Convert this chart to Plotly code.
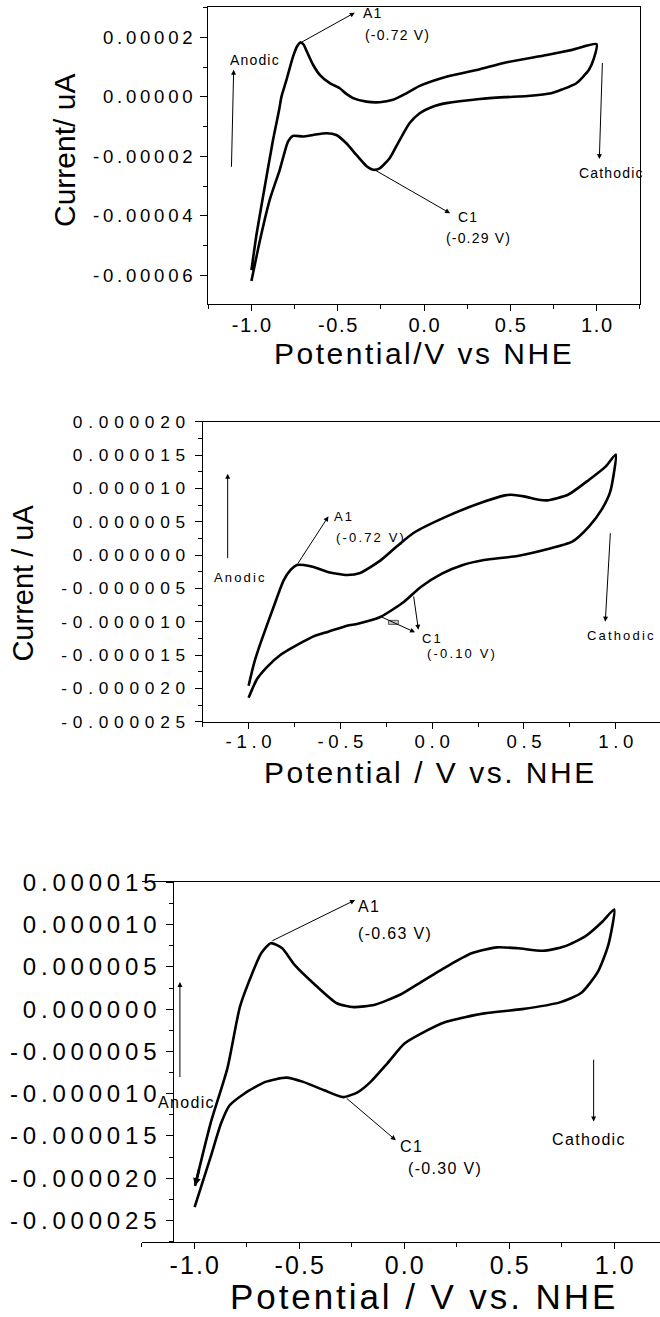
import plotly.graph_objects as go

W, H = 660, 1317
FONT = "Liberation Sans"

# ---------------- data (potential in V, current in A) ----------------
# Panel 1
P1_FWD_E = [-1.0, -0.97, -0.936, -0.875, -0.84, -0.826, -0.797, -0.759, -0.735, -0.716, -0.698, -0.681,
            -0.643, -0.604, -0.546, -0.488, -0.45, -0.411, -0.334, -0.257, -0.18, -0.102, -0.025, 0.13,
            0.323, 0.468, 0.712, 0.859, 1.0]
P1_FWD_I = [-5.82e-5, -4.6e-5, -3.46e-5, -1.45e-5, -0.45e-5, 0.01e-5, 0.57e-5, 1.35e-5, 1.70e-5, 1.83e-5,
            1.76e-5, 1.55e-5, 1.08e-5, 0.74e-5, 0.46e-5, 0.29e-5, 0.10e-5, -0.04e-5, -0.16e-5, -0.18e-5,
            -0.10e-5, 0.12e-5, 0.37e-5, 0.68e-5, 0.93e-5, 1.15e-5, 1.41e-5, 1.58e-5, 1.77e-5]
P1_REV_E = [0.985, 0.956, 0.883, 0.80, 0.737, 0.60, 0.468, 0.323, 0.13, 0.05, -0.025, -0.083, -0.141,
            -0.199, -0.257, -0.291, -0.334, -0.392, -0.45, -0.508, -0.565, -0.643, -0.701, -0.759, -0.788,
            -0.836, -0.894, -0.95, -1.0]
P1_REV_I = [1.3e-5, 0.91e-5, 0.46e-5, 0.25e-5, 0.12e-5, 0.03e-5, -0.01e-5, -0.07e-5, -0.21e-5, -0.33e-5,
            -0.55e-5, -0.88e-5, -1.45e-5, -2.06e-5, -2.40e-5, -2.45e-5, -2.32e-5, -1.95e-5, -1.56e-5,
            -1.28e-5, -1.22e-5, -1.28e-5, -1.33e-5, -1.31e-5, -1.50e-5, -2.45e-5, -3.46e-5, -4.8e-5, -6.19e-5]

# Panel 2
P2_FWD_E = [-1.0, -0.97, -0.936, -0.864, -0.809, -0.77, -0.737, -0.70, -0.646, -0.573, -0.464, -0.392,
            -0.281, -0.192, -0.102, 0.08, 0.262, 0.396, 0.43, 0.50, 0.58, 0.625, 0.74, 0.855, 0.946, 1.0]
P2_FWD_I = [-1.96e-5, -1.62e-5, -1.33e-5, -0.78e-5, -0.38e-5, -0.22e-5, -0.15e-5, -0.15e-5, -0.18e-5,
            -0.25e-5, -0.30e-5, -0.27e-5, -0.08e-5, 0.13e-5, 0.33e-5, 0.58e-5, 0.78e-5, 0.895e-5, 0.905e-5,
            0.88e-5, 0.83e-5, 0.82e-5, 0.905e-5, 1.13e-5, 1.33e-5, 1.51e-5]
P2_REV_E = [0.97, 0.923, 0.855, 0.763, 0.625, 0.465, 0.282, 0.167, 0.053, -0.062, -0.153, -0.283, -0.405,
            -0.464, -0.566, -0.646, -0.703, -0.827, -0.90, -0.954, -1.0]
P2_REV_I = [0.95e-5, 0.68e-5, 0.43e-5, 0.20e-5, 0.086e-5, -0.015e-5, -0.075e-5, -0.15e-5, -0.28e-5,
            -0.48e-5, -0.70e-5, -0.93e-5, -1.03e-5, -1.06e-5, -1.15e-5, -1.22e-5, -1.30e-5, -1.50e-5,
            -1.68e-5, -1.86e-5, -2.14e-5]

# Panel 3
P3_FWD_E = [-0.996, -0.922, -0.842, -0.782, -0.721, -0.681, -0.635, -0.581, -0.521, -0.421, -0.321, -0.24,
            -0.14, -0.02, 0.08, 0.2, 0.321, 0.441, 0.541, 0.661, 0.762, 0.862, 0.942, 1.0]
P3_FWD_I = [-2.09e-5, -1.35e-5, -0.70e-5, 0.03e-5, 0.44e-5, 0.66e-5, 0.78e-5, 0.72e-5, 0.52e-5, 0.28e-5,
            0.07e-5, 0.024e-5, 0.053e-5, 0.17e-5, 0.32e-5, 0.50e-5, 0.66e-5, 0.73e-5, 0.72e-5, 0.69e-5,
            0.74e-5, 0.86e-5, 1.03e-5, 1.18e-5]
P3_REV_E = [0.972, 0.922, 0.842, 0.741, 0.561, 0.381, 0.2, 0.08, 0.0, -0.08, -0.16, -0.22, -0.291, -0.381,
            -0.481, -0.561, -0.661, -0.762, -0.832, -0.872, -0.922, -0.998]
P3_REV_I = [0.76e-5, 0.44e-5, 0.19e-5, 0.08e-5, 0.0, -0.05e-5, -0.15e-5, -0.29e-5, -0.41e-5, -0.64e-5,
            -0.86e-5, -0.98e-5, -1.04e-5, -0.96e-5, -0.86e-5, -0.81e-5, -0.86e-5, -1.00e-5, -1.14e-5,
            -1.35e-5, -1.75e-5, -2.34e-5]

# ---------------- ticks ----------------
X_TICKS = [-1.0, -0.5, 0.0, 0.5, 1.0]
X_TICK_TEXT = ["-1.0", "-0.5", "0.0", "0.5", "1.0"]
X_MINOR = [-1.25, -0.75, -0.25, 0.25, 0.75, 1.25]

P1_Y_TICKS = [-6e-5, -4e-5, -2e-5, 0.0, 2e-5]
P1_Y_TEXT = ["-0.00006", "-0.00004", "-0.00002", "0.00000", "0.00002"]
P1_Y_MINOR = [-7e-5, -5e-5, -3e-5, -1e-5, 1e-5, 3e-5]

P2_Y_TICKS = [-2.5e-5, -2e-5, -1.5e-5, -1e-5, -0.5e-5, 0.0, 0.5e-5, 1e-5, 1.5e-5, 2e-5]
P2_Y_TEXT = ["-0.000025", "-0.000020", "-0.000015", "-0.000010", "-0.000005", "0.000000",
             "0.000005", "0.000010", "0.000015", "0.000020"]
P2_Y_MINOR = [-2.25e-5, -1.75e-5, -1.25e-5, -0.75e-5, -0.25e-5, 0.25e-5, 0.75e-5, 1.25e-5, 1.75e-5]

P3_Y_TICKS = [-2.5e-5, -2e-5, -1.5e-5, -1e-5, -0.5e-5, 0.0, 0.5e-5, 1e-5, 1.5e-5]
P3_Y_TEXT = ["-0.000025", "-0.000020", "-0.000015", "-0.000010", "-0.000005", "0.000000",
             "0.000005", "0.000010", "0.000015"]
P3_Y_MINOR = [-2.75e-5, -2.25e-5, -1.75e-5, -1.25e-5, -0.75e-5, -0.25e-5, 0.25e-5, 0.75e-5, 1.25e-5]

# ---------------- annotations (data coordinates) ----------------
P1_ARROWS = [(-0.715, 1.82e-5, -0.401, 2.83e-5), (-0.293, -2.43e-5, 0.151, -3.91e-5),
             (-1.116, -2.40e-5, -1.103, 0.91e-5), (1.034, 1.19e-5, 1.016, -2.09e-5)]
P1_TEXTS = [("A1", -0.364, 2.81e-5), ("(-0.72 V)", -0.353, 2.08e-5), ("Anodic", -1.137, 1.24e-5),
            ("Cathodic", 0.887, -2.56e-5), ("C1", 0.187, -4.02e-5), ("(-0.29 V)", 0.114, -4.75e-5)]

P2_ARROWS = [(-0.737, -0.15e-5, -0.565, 0.58e-5), (-0.102, -0.60e-5, -0.075, -1.12e-5),
             (-0.283, -0.92e-5, -0.093, -1.16e-5), (-1.114, -0.07e-5, -1.114, 1.22e-5),
             (0.971, 0.35e-5, 0.943, -1.0e-5)]
P2_TEXTS = [("A1", -0.546, 0.58e-5), ("(-0.72 V)", -0.537, 0.27e-5), ("Anodic", -1.199, -0.33e-5),
            ("C1", -0.069, -1.25e-5), ("(-0.10 V)", -0.038, -1.47e-5), ("Cathodic", 0.833, -1.21e-5)]
P2_BOX = (-0.211, -1.01e-5)

P3_ARROWS = [(-0.635, 0.80e-5, -0.234, 1.29e-5), (-0.281, -1.04e-5, -0.040, -1.55e-5),
             (-1.068, -0.82e-5, -1.068, 0.32e-5), (0.902, -0.58e-5, 0.902, -1.33e-5)]
P3_START_ARROW = (-0.975, -1.88e-5, -0.996, -2.09e-5)
P3_TEXTS = [("A1", -0.230, 1.21e-5), ("(-0.63 V)", -0.230, 0.90e-5), ("Anodic", -1.182, -1.10e-5),
            ("C1", -0.030, -1.62e-5), ("(-0.30 V)", 0.010, -1.88e-5), ("Cathodic", 0.695, -1.54e-5)]

HAIR, THIN, SIX, FOUR, THREE = "\u200a", "\u2009", "\u2006", "\u2005", "\u2004"


def spaced(s, gap):
    return gap.join(list(s))


def px_x(p):
    return p / W


def px_y(p):
    return 1 - p / H


fig = go.Figure()
for (fe, fi, re_, ri, xa, ya) in [
    (P1_FWD_E, P1_FWD_I, P1_REV_E, P1_REV_I, "x", "y"),
    (P2_FWD_E, P2_FWD_I, P2_REV_E, P2_REV_I, "x2", "y2"),
    (P3_FWD_E, P3_FWD_I, P3_REV_E, P3_REV_I, "x3", "y3"),
]:
    fig.add_trace(go.Scatter(x=fe + re_, y=fi + ri, mode="lines", xaxis=xa, yaxis=ya,
                             line=dict(color="black", width=2.6, shape="spline", smoothing=0.6),
                             showlegend=False, hoverinfo="skip"))

base = dict(showline=True, linecolor="black", linewidth=1, ticks="outside", tickcolor="black",
            tickwidth=1, showgrid=False, zeroline=False, automargin=False)


def xax(domain, rng, anchor, fsize, gap, standoff):
    return dict(base, domain=domain, range=rng, anchor=anchor, mirror=True, tickmode="array",
                tickvals=X_TICKS, ticktext=[spaced(t, gap) for t in X_TICK_TEXT], ticklen=6,
                tickfont=dict(family=FONT, size=fsize, color="black"), ticklabelstandoff=standoff,
                minor=dict(tickmode="array", tickvals=X_MINOR, ticks="outside", ticklen=4,
                           tickcolor="black", tickwidth=1))


def yax(domain, rng, anchor, vals, texts, minor, fsize, gap, standoff, mirror, **kw):
    d = dict(base, domain=domain, range=rng, anchor=anchor, mirror=mirror, tickmode="array",
             tickvals=vals, ticktext=[spaced(t, gap) for t in texts], ticklen=7,
             tickfont=dict(family=FONT, size=fsize, color="black"), ticklabelstandoff=standoff,
             minor=dict(tickmode="array", tickvals=minor, ticks="outside", ticklen=4,
                        tickcolor="black", tickwidth=1))
    d.update(kw)
    return d


fig.update_layout(
    template="none",
    width=W, height=H, margin=dict(l=0, r=0, t=0, b=0, pad=0), autosize=False,
    paper_bgcolor="white", plot_bgcolor="white", showlegend=False,
    font=dict(family=FONT, color="black"),
    xaxis=xax([px_x(208.3), px_x(639.7)], [-1.25, 1.25], "y", 20, HAIR, -3),
    yaxis=yax([px_y(304.3), px_y(7.3)], [-6.97e-5, 3.01e-5], "x", P1_Y_TICKS, P1_Y_TEXT, P1_Y_MINOR,
              18.6, THIN, 4, True),
    xaxis2=xax([px_x(202.7), 1.0], [-1.25, 1.241], "y2", 18.6, FOUR, -3),
    yaxis2=yax([px_y(721.7), px_y(421.7)], [-2.5e-5, 2.0e-5], "x2", P2_Y_TICKS, P2_Y_TEXT, P2_Y_MINOR,
               17.3, THREE, 6, False),
    xaxis3=xax([px_x(141.7), 1.0], [-1.25, 1.218], "y3", 25, HAIR, -5),
    yaxis3=yax([px_y(1241.7), px_y(882.3)], [-2.75e-5, 1.5e-5], "free", P3_Y_TICKS, P3_Y_TEXT, P3_Y_MINOR,
               24, THIN, 5, False, position=px_x(173.3)),
)

annotations = []


def add_arrows(arrows, xr, yr, width=1.0, size=1.0):
    for (tx, ty, hx, hy) in arrows:
        annotations.append(dict(x=hx, y=hy, ax=tx, ay=ty, xref=xr, yref=yr, axref=xr, ayref=yr,
                                text="", showarrow=True, arrowhead=2, arrowsize=size,
                                arrowwidth=width, arrowcolor="black", standoff=0, startstandoff=0))


def add_texts(texts, xr, yr, fsize, gap):
    for (t, x, y) in texts:
        annotations.append(dict(x=x, y=y, xref=xr, yref=yr, text=spaced(t, gap), showarrow=False,
                                xanchor="left", yanchor="middle",
                                font=dict(family=FONT, size=fsize, color="black")))


add_arrows(P1_ARROWS, "x", "y")
add_texts(P1_TEXTS, "x", "y", 14, HAIR)
add_arrows(P2_ARROWS, "x2", "y2")
add_texts(P2_TEXTS, "x2", "y2", 13, SIX)
add_arrows(P3_ARROWS, "x3", "y3")
add_arrows([P3_START_ARROW], "x3", "y3", width=2.6, size=0.6)
add_texts(P3_TEXTS, "x3", "y3", 16, HAIR)

# axis titles placed at the reference positions
TITLES = [
    ("Current/ uA", 64, 151, 30, -90, ""),
    ("Potential/V vs NHE", 422.5, 354, 30, 0, HAIR),
    ("Current / uA", 23.3, 583.3, 29, -90, ""),
    ("Potential / V vs. NHE", 429, 772, 30, 0, HAIR),
    ("Potential / V vs. NHE", 422.5, 1296, 35, 0, HAIR),
]
for (t, px, py, fs, ang, gap) in TITLES:
    annotations.append(dict(x=px_x(px), y=px_y(py), xref="paper", yref="paper",
                            text=spaced(t, gap) if gap else t, showarrow=False, textangle=ang,
                            xanchor="center", yanchor="middle",
                            font=dict(family=FONT, size=fs, color="black")))

fig.update_layout(annotations=annotations)

# small grey marker box near C1 in panel 2
bx, by = P2_BOX
fig.add_shape(type="rect", xref="x2", yref="y2", x0=bx - 0.027, x1=bx + 0.027, y0=by - 0.03e-5,
              y1=by + 0.03e-5, fillcolor="#c8c8c8", line=dict(color="#555555", width=1))

fig.write_html("out.html")
